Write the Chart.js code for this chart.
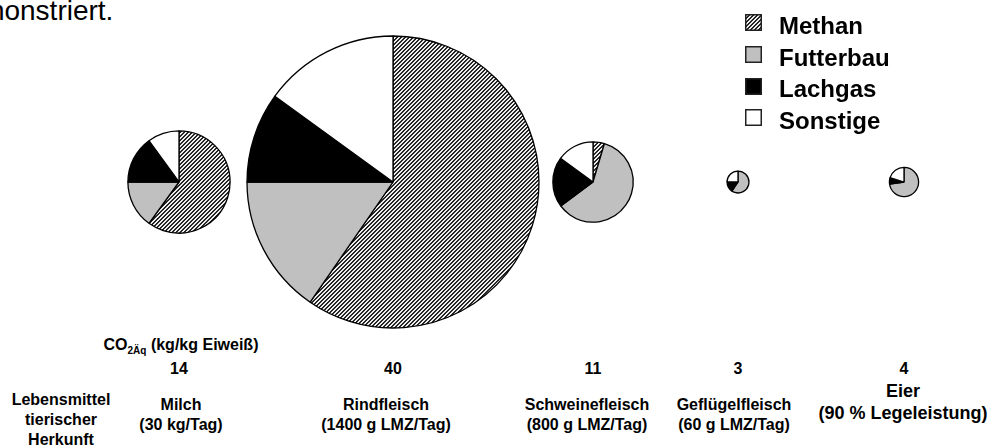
<!DOCTYPE html>
<html>
<head>
<meta charset="utf-8">
<script src="https://cdn.jsdelivr.net/npm/chart.js@4.4.1/dist/chart.umd.min.js"></script>
<style>
  html, body { margin: 0; padding: 0; background: #fff; }
  #wrap { position: relative; width: 997px; height: 445px; overflow: hidden; background: #fff;
          font-family: "Liberation Sans", Arial, sans-serif; color: #000; }
  .lbl { position: absolute; transform: translateX(-50%); text-align: center; white-space: nowrap;
         font-weight: bold; font-size: 16px; line-height: 20px; }
  .lbl sub { font-size: 10px; vertical-align: -4px; line-height: 0; }
  #intro { position: absolute; left: -50px; top: -3px; font-size: 28px; line-height: 28px; white-space: nowrap; }
  #legend { position: absolute; left: 745px; top: 10px; }
  .item { display: flex; align-items: center; height: 31.7px; font-weight: bold; font-size: 24px; }
  .item canvas { margin-right: 17px; margin-top: -6px; }
  canvas.pie { position: absolute; }
</style>
</head>
<body>
<div id="wrap">
  <div id="intro">demonstriert.</div>
  <div id="legend"></div>
</div>
<script>
const categories = ['Milch', 'Rindfleisch', 'Schweinefleisch', 'Geflügelfleisch', 'Eier'];
const subtitles = ['(30 kg/Tag)', '(1400 g LMZ/Tag)', '(800 g LMZ/Tag)', '(60 g LMZ/Tag)', '(90 % Legeleistung)'];
const co2Values = [14, 40, 11, 3, 4];

// Anteile der Emissionsquellen in % je Lebensmittel
const sources = ['Methan', 'Futterbau', 'Lachgas', 'Sonstige'];
const methan = [60, 59.6, 4.6, 0, 0];
const futterbau = [15, 15.4, 60.2, 59.4, 72.8];
const lachgas = [15, 10, 20.2, 15.6, 7];
const sonstige = [10, 15, 15, 25, 20.2];

// layout
const pieX = [179, 393, 593, 738, 904];
const pieY = 182;
const labelX = [181, 386, 587, 734, 903];
const pxPerKg = 3.65;

const wrap = document.getElementById('wrap');

function hatch(ctx) {
    const tile = document.createElement('canvas');
    tile.width = 4;
    tile.height = 4;
    const t = tile.getContext('2d');
    for (let x = 0; x < 4; x++) {
        for (let y = 0; y < 4; y++) {
            t.fillStyle = (x + y) % 4 < 2 ? '#262626' : '#ededed';
            t.fillRect(x, y, 1, 1);
        }
    }
    return ctx.createPattern(tile, 'repeat');
}

function fills(ctx) {
    return [hatch(ctx), '#c0c0c0', '#000000', '#ffffff'];
}

function addLabel(text, x, y, extra) {
    const div = document.createElement('div');
    div.className = 'lbl';
    div.innerHTML = text;
    div.style.left = x + 'px';
    div.style.top = y + 'px';
    if (extra) Object.assign(div.style, extra);
    wrap.appendChild(div);
}

categories.forEach((name, i) => {
    const r = co2Values[i] * pxPerKg;
    const size = 2 * Math.ceil(r) + 10;
    const canvas = document.createElement('canvas');
    canvas.className = 'pie';
    canvas.width = size;
    canvas.height = size;
    canvas.style.left = (pieX[i] - size / 2) + 'px';
    canvas.style.top = (pieY - size / 2) + 'px';
    wrap.appendChild(canvas);

    new Chart(canvas, {
        type: 'pie',
        data: {
            labels: sources,
            datasets: [{
                data: [methan[i], futterbau[i], lachgas[i], sonstige[i]],
                backgroundColor: fills(canvas.getContext('2d')),
                borderColor: '#000',
                borderWidth: 1.3
            }]
        },
        options: {
            responsive: false,
            animation: false,
            radius: r,
            layout: { padding: 0 },
            plugins: {
                legend: { display: false },
                tooltip: { enabled: false }
            }
        }
    });

    addLabel(String(co2Values[i]), pieX[i], 359);
    if (name === 'Eier') {
        addLabel(name + '<br>' + subtitles[i], labelX[i], 380, { fontSize: '18px', lineHeight: '22px' });
    } else {
        addLabel(name + '<br>' + subtitles[i], labelX[i], 395);
    }
});

addLabel('CO<sub>2Äq</sub> (kg/kg Eiweiß)', 181, 335);
addLabel('Lebensmittel<br>tierischer<br>Herkunft', 61, 390);

// Legende
const legend = document.getElementById('legend');
sources.forEach((src, k) => {
    const item = document.createElement('div');
    item.className = 'item';
    const sw = document.createElement('canvas');
    sw.width = 17;
    sw.height = 17;
    const c = sw.getContext('2d');
    c.fillStyle = fills(c)[k];
    c.fillRect(0, 0, 17, 17);
    c.strokeStyle = '#222';
    c.lineWidth = 1.5;
    c.strokeRect(0.75, 0.75, 15.5, 15.5);
    item.appendChild(sw);
    const span = document.createElement('span');
    span.textContent = src;
    item.appendChild(span);
    legend.appendChild(item);
});
</script>
</body>
</html>
